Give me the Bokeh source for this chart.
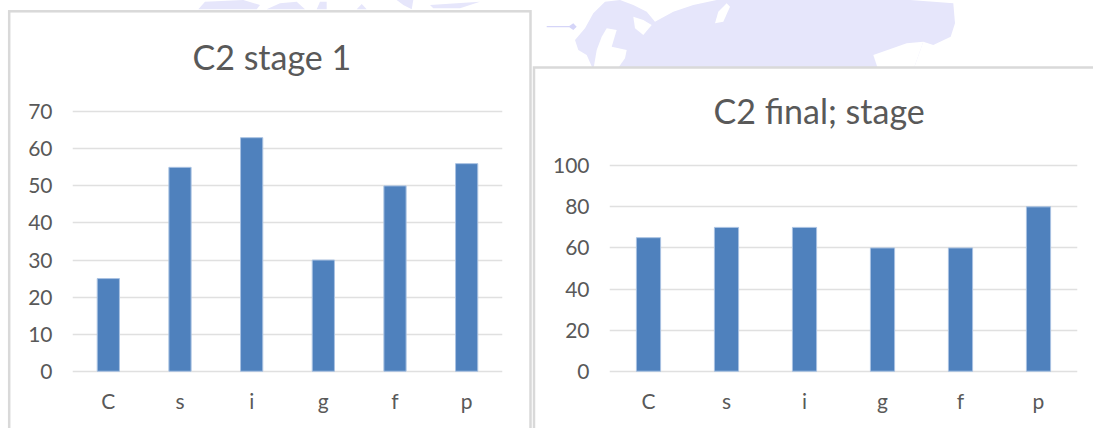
from urllib.parse import quote
from bokeh.plotting import figure
from bokeh.embed import file_html
from bokeh.resources import INLINE
from bokeh.layouts import row
from bokeh.models import FixedTicker

categories = ["C", "s", "i", "g", "f", "p"]
stage1 = [25, 55, 63, 30, 50, 56]
final = [65, 70, 70, 60, 60, 80]
ticks1 = [0, 10, 20, 30, 40, 50, 60, 70]
ticks2 = [0, 20, 40, 60, 80, 100]

# decorative backdrop outline, traced on 3x crops of the reference
map_main = [(135, 120), (165, 85), (190, 40), (225, 5), (270, 0), (310, 15), (350, 35), (375, 65),
            (430, 35), (490, 15), (560, 0), (1140, 0), (1270, 10), (1275, 70), (1262, 110),
            (1210, 135), (1180, 125), (1150, 210), (190, 210), (170, 165), (145, 150)]
map_holes = [
    [(230, 85), (260, 90), (245, 140), (290, 150), (285, 175), (260, 210), (190, 210), (200, 150), (215, 110)],
    [(310, 50), (340, 60), (365, 75), (340, 105), (315, 85)],
    [(590, 10), (600, 20), (580, 65), (555, 70), (565, 35)],
    [(1180, 125), (1150, 210), (1045, 210), (1030, 165), (1130, 130)],
]
map_dot = [(50, 78), (118, 78), (130, 70), (140, 80), (130, 90), (118, 82), (50, 82)]
map_top_left = [
    [(55, 28), (75, 5), (190, 0), (240, 15), (230, 28)],
    [(260, 28), (300, 10), (350, 5), (375, 28)],
    [(410, 28), (420, 5), (440, 5), (440, 28)],
    [(530, 28), (545, 12), (560, 28)],
    [(650, 0), (700, 0), (695, 28), (670, 15)],
    [(750, 15), (900, 5), (840, 25), (760, 25)],
]

FONT = "Lato"
GREY = "#595959"
WIDTH, HEIGHT = 1093, 428


def svg_poly(pts, ox, color):
    coords = " ".join(f"{ox + a / 3:.1f},{b / 3:.1f}" for a, b in pts)
    return f"<polygon points='{coords}' fill='{color}'/>"


def backdrop():
    parts = [svg_poly(p, 180, "#e6e6fb") for p in map_top_left]
    parts.append(svg_poly(map_main, 530, "#e6e6fb"))
    parts += [svg_poly(h, 530, "#ffffff") for h in map_holes]
    parts.append(svg_poly(map_dot, 530, "#d5d5f8"))
    blurred = "<g filter='url(#b)'>" + "".join(parts) + "</g>"
    panels = ("<rect x='9.2' y='11.3' width='521.3' height='460' fill='#fff' stroke='#d9d9d9' stroke-width='2.5'/>"
              "<rect x='534' y='67.5' width='620' height='460' fill='#fff' stroke='#d9d9d9' stroke-width='2.5'/>")
    svg = (f"<svg xmlns='http://www.w3.org/2000/svg' width='{WIDTH}' height='{HEIGHT}'>"
           "<defs><filter id='b'><feGaussianBlur stdDeviation='0.7'/></filter></defs>"
           f"<rect width='{WIDTH}' height='{HEIGHT}' fill='#fff'/>{blurred}{panels}</svg>")
    return 'url("data:image/svg+xml,' + quote(svg, safe="") + '")'


def chart(title, vals, ticks, y_pad, ymax, width, borders, title_offset):
    left, right, top, bottom = borders
    p = figure(width=width, height=HEIGHT, x_range=categories, y_range=(-y_pad, ymax + y_pad),
               output_backend="svg", toolbar_location=None, frame_align=False,
               min_border_left=left, min_border_right=right,
               min_border_top=top, min_border_bottom=bottom)
    p.outline_line_color = None
    p.background_fill_color = None
    p.border_fill_color = None
    p.vbar(x=categories, top=vals, width=0.31, fill_color="#4f81bd", line_color="#a9c2e2", line_width=1)
    p.title.text = title
    p.title.text_font = FONT
    p.title.text_font_size = "34px"
    p.title.text_font_style = "normal"
    p.title.text_color = GREY
    p.title.align = "left"
    p.title.offset = title_offset
    p.title.standoff = 66
    p.xgrid.visible = False
    p.ygrid.grid_line_color = "#e0e0e0"
    p.ygrid.grid_line_width = 1.5
    p.yaxis.ticker = FixedTicker(ticks=ticks)
    for ax in (p.xaxis[0], p.yaxis[0]):
        ax.axis_line_color = None
        ax.major_tick_line_color = None
        ax.minor_tick_line_color = None
        ax.major_tick_out = 0
        ax.major_tick_in = 0
        ax.minor_tick_out = 0
        ax.minor_tick_in = 0
        ax.major_label_text_font = FONT
        ax.major_label_text_font_size = "21px"
        ax.major_label_text_color = GREY
    p.yaxis.major_label_standoff = 20
    p.xaxis.major_label_standoff = 14
    return p


left = chart("C2 stage 1", stage1, ticks1, 0.6, 70, 532, (72, 30, 107, 55), 120)
right = chart("C2 final; stage", final, ticks2, 1.1, 100, 561, (77, 16, 163, 55), 104)
layout = row(left, right, spacing=0,
             styles={"width": f"{WIDTH}px", "height": f"{HEIGHT}px",
                     "background-image": backdrop(), "background-repeat": "no-repeat"})

open("out.html", "w").write(file_html(layout, INLINE))
